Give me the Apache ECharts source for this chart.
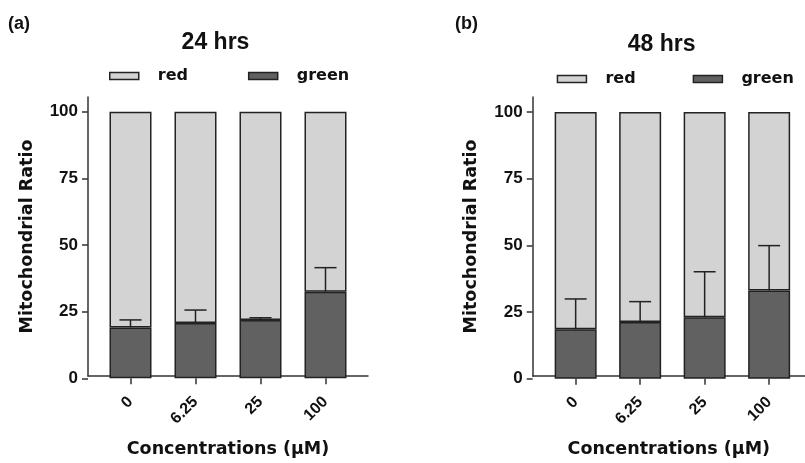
<!DOCTYPE html>
<html>
<head>
<meta charset="utf-8">
<script src="https://cdn.jsdelivr.net/npm/echarts@6/dist/echarts.min.js"></script>
<style>html,body{margin:0;padding:0;background:#fff}#c{width:805px;height:463px}</style>
</head>
<body>
<div id="c"></div>
<script>
const categories = ['0', '6.25', '25', '100'];
const green24 = [19.1, 20.7, 21.9, 32.5];
const red24 = [80.9, 79.3, 78.1, 67.5];
const err24 = [2.8, 4.9, 0.8, 9.0];
const green48 = [18.5, 21.3, 23.0, 33.1];
const red48 = [81.5, 78.7, 77.0, 66.9];
const err48 = [11.4, 7.6, 17.1, 16.8];
const yMin = 0, yMax = 100, yStep = 25;

const NUM_FONT = '"Liberation Sans", Arial, sans-serif';
const WIDE_FONT = '"DejaVu Sans", sans-serif';
const AXIS = '#333';
const DARK = '#616161', LIGHT = '#d3d3d3', EDGE = '#222';

function renderErr(params, api) {
  const x = api.value(0), lo = api.value(1), hi = api.value(2);
  const p0 = api.coord([x, lo]), p1 = api.coord([x, hi]);
  const hw = api.size([1, 0])[0] * 0.17;
  return {
    type: 'group',
    children: [
      {type: 'line', shape: {x1: p0[0], y1: p0[1], x2: p1[0], y2: p1[1]}, style: {stroke: EDGE, lineWidth: 1.5}},
      {type: 'line', shape: {x1: p1[0] - hw, y1: p1[1], x2: p1[0] + hw, y2: p1[1]}, style: {stroke: EDGE, lineWidth: 1.5}}
    ]
  };
}

function errData(g, e) { return g.map((v, i) => [i, v, v + e[i]]); }

const panels = [
  {gA: {left: 98, top: 111.7, width: 260, height: 266.6}, gB: {left: 88, top: 97, width: 280, height: 281.3}, off: 10, green: green24, red: red24, err: err24},
  {gA: {left: 543.4, top: 112, width: 258, height: 266.7}, gB: {left: 532.7, top: 97, width: 280, height: 281.7}, off: 10.7, green: green48, red: red48, err: err48}
];

const option = {
  animation: false,
  backgroundColor: '#fff',
  title: [
    {text: '(a)', left: 8, top: 15, padding: 0, textStyle: {fontFamily: NUM_FONT, fontSize: 18, fontWeight: 'bold', color: '#111'}},
    {text: '24 hrs', left: 215.5, top: 31, padding: 0, textAlign: 'center', textStyle: {fontFamily: NUM_FONT, fontSize: 23, fontWeight: 'bold', color: '#111'}},
    {text: '(b)', left: 455, top: 15, padding: 0, textStyle: {fontFamily: NUM_FONT, fontSize: 18, fontWeight: 'bold', color: '#111'}},
    {text: '48 hrs', left: 661.7, top: 33.5, padding: 0, textAlign: 'center', textStyle: {fontFamily: NUM_FONT, fontSize: 23, fontWeight: 'bold', color: '#111'}}
  ],
  legend: [
    {data: ['red', 'green'], left: 109, top: 68, itemWidth: 29, itemHeight: 7, itemGap: 60, icon: 'rect', padding: 0,
      itemStyle: {borderColor: EDGE, borderWidth: 1.5},
      textStyle: {fontFamily: WIDE_FONT, fontSize: 16, fontWeight: 'bold', color: '#111', padding: [0, 0, 0, 14]}},
    {data: ['red', 'green'], left: 556.7, top: 71, itemWidth: 29, itemHeight: 7, itemGap: 57, icon: 'rect', padding: 0,
      itemStyle: {borderColor: EDGE, borderWidth: 1.5},
      textStyle: {fontFamily: WIDE_FONT, fontSize: 16, fontWeight: 'bold', color: '#111', padding: [0, 0, 0, 14]}}
  ],
  grid: [],
  xAxis: [],
  yAxis: [],
  series: []
};

panels.forEach((p, k) => {
  const ga = option.grid.length;
  option.grid.push(p.gA, p.gB);
  option.xAxis.push({
    type: 'category', gridIndex: ga, data: categories, boundaryGap: true,
    axisLine: {show: false},
    axisTick: {show: true, alignWithLabel: true, length: 6, lineStyle: {color: AXIS, width: 1.5}},
    axisLabel: {rotate: 45, margin: 21, fontFamily: NUM_FONT, fontSize: 16, fontWeight: 'bold', color: '#111'},
    splitLine: {show: false}
  });
  option.xAxis.push({
    type: 'value', gridIndex: ga + 1, min: 0, max: 1,
    axisLine: {show: true, onZero: false, lineStyle: {color: AXIS, width: 1.5}},
    axisTick: {show: false}, axisLabel: {show: false}, splitLine: {show: false},
    name: 'Concentrations (\u03bcM)', nameLocation: 'middle', nameGap: 64,
    nameTextStyle: {fontFamily: WIDE_FONT, fontSize: 17.5, fontWeight: 'bold', color: '#111'}
  });
  option.yAxis.push({
    type: 'value', gridIndex: ga, min: yMin, max: yMax, interval: yStep, offset: p.off,
    axisLine: {show: false},
    axisTick: {show: true, length: 6, lineStyle: {color: AXIS, width: 1.5}},
    axisLabel: {margin: 10, fontFamily: NUM_FONT, fontSize: 17, fontWeight: 'bold', color: '#111'},
    splitLine: {show: false}
  });
  option.yAxis.push({
    type: 'value', gridIndex: ga + 1, min: 0, max: 1,
    axisLine: {show: true, onZero: false, lineStyle: {color: AXIS, width: 1.5}},
    axisTick: {show: false}, axisLabel: {show: false}, splitLine: {show: false},
    name: 'Mitochondrial Ratio', nameLocation: 'middle', nameGap: 52,
    nameTextStyle: {fontFamily: WIDE_FONT, fontSize: 17.5, fontWeight: 'bold', color: '#111'}
  });
  const stack = 'stk' + k;
  option.series.push({
    name: 'green', type: 'bar', xAxisIndex: ga, yAxisIndex: ga, stack: stack, data: p.green, barWidth: 42,
    itemStyle: {color: DARK, borderColor: EDGE, borderWidth: 1.5}
  });
  option.series.push({
    name: 'red', type: 'bar', xAxisIndex: ga, yAxisIndex: ga, stack: stack, data: p.red, barWidth: 42,
    itemStyle: {color: LIGHT, borderColor: EDGE, borderWidth: 1.5}
  });
  option.series.push({
    type: 'custom', xAxisIndex: ga, yAxisIndex: ga, renderItem: renderErr, z: 5,
    encode: {x: 0, y: [1, 2]}, data: errData(p.green, p.err)
  });
});

const chart = echarts.init(document.getElementById('c'), null, {renderer: 'canvas'});
chart.setOption(option);
</script>
</body>
</html>
